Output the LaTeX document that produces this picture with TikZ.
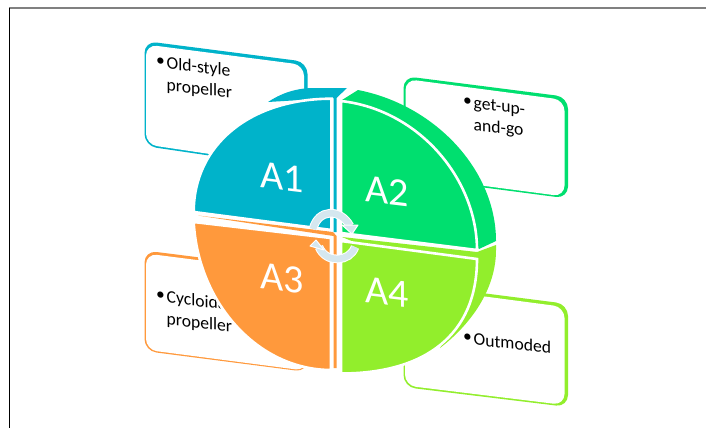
\documentclass[tikz,border=0pt]{standalone}
\usepackage{fontspec}
\setmainfont{Carlito}
\definecolor{cA}{HTML}{00B3CA}
\definecolor{cB}{HTML}{00DF6F}
\definecolor{cC}{HTML}{FF993C}
\definecolor{cD}{HTML}{92EE2C}
\definecolor{cR}{HTML}{D5E7EF}
\newcommand{\bulletline}[2]{\makebox[10.5pt][l]{\raisebox{1.5pt}{•}}#1\\\makebox[10.5pt][l]{}#2}
\tikzset{
 front/.style={draw=white,line width=2.6pt,line join=miter},
 lab/.style={text=white,font=\fontsize{40}{44}\selectfont,yslant=-0.12,inner sep=0pt},
 box/.style={font=\fontsize{17.6}{21.5}\selectfont,text=black,yslant=-0.12,anchor=north west,inner sep=0pt,align=left},
 ring/.style={draw=white,line width=8.6pt},
 ringin/.style={draw=cR,line width=6.6pt},
 rhead/.style={fill=cR,draw=white,line width=1pt,line join=round}
}
\begin{document}
\begin{tikzpicture}[x=1pt,y=-1pt]
\useasboundingbox (0,0) rectangle (706,428);
\fill[white] (0,0) rectangle (706,428);
\draw[gray,line width=1.5pt] (9,8) -- (706,8);
\draw[black,line width=1.2pt] (9.5,8) -- (9.5,428);
% text boxes
\fill[cA,rounded corners=12pt] (144.5,41) -- (307.5,62) -- (307.5,170) -- (144.5,146) -- cycle;
\fill[white,rounded corners=11pt] (146,44.5) -- (304,65) -- (304,168) -- (146,144.5) -- cycle;
\fill[cB,rounded corners=12pt] (403.5,76) -- (568,97) -- (568,198.5) -- (403.5,177) -- cycle;
\fill[white,rounded corners=11pt] (405.5,79) -- (564.5,100) -- (564.5,196.5) -- (405.5,175.5) -- cycle;
\fill[cC,rounded corners=12pt] (144.5,250.5) -- (307.5,271) -- (307.5,372) -- (144.5,351) -- cycle;
\fill[white,rounded corners=11pt] (146,253.5) -- (306.5,274) -- (306.5,370.8) -- (146,349.8) -- cycle;
\fill[cD,rounded corners=12pt] (403.5,283) -- (568,304) -- (568,407) -- (403.5,387) -- cycle;
\fill[white,rounded corners=11pt] (405,286) -- (564.5,307) -- (564.5,405) -- (405,385.5) -- cycle;
\node[box] (t1) at (156,55) {\bulletline{Old-style}{propeller}};
\node[box] (t2) at (463,96) {\bulletline{get-up-}{and-go}};
\node[box] (t3) at (156,289) {\bulletline{Cycloidal}{propeller}};
\node[box] (t4) at (463,331) {\makebox[10.5pt][l]{\raisebox{1.5pt}{•}}Outmoded};
% side faces
\fill[cA] (268,102) .. controls (280,94) and (295,88) .. (314,88) -- (347,88) -- (336.5,98) -- (336.5,232) -- (333.5,232) -- (333.5,98) -- cycle;
\fill[cB] (342,100) -- (358,90) .. controls (435,105) and (496,170) .. (496,241) -- (479,249) -- cycle;
\fill[cC] (198,215.5) -- (333,232) -- (336.5,236) -- (336.5,368) -- (333.5,368) -- (333.5,236) -- cycle;
\fill[cD] (342,237) -- (477,252) -- (496,245) -- (496,250) .. controls (496,290) and (470,325) .. (440,348) -- (470,290) -- cycle;
% front faces
\path[front,fill=cA] (193.7,212) .. controls (193.7,145) and (250,98.7) .. (331.5,98.7) -- (331.5,230) -- cycle;
\path[front,fill=cB] (341,101) .. controls (420,110) and (477,180) .. (477,250) -- (341,233) -- cycle;
\path[front,fill=cC] (193.7,222) -- (331,238) -- (331,370) .. controls (258,370) and (198,303) .. cycle;
\path[front,fill=cD] (341,241) -- (477,259) .. controls (477,335) and (425,373.5) .. (341,373.5) -- cycle;
% labels
\node[lab] (a1) at (282,177) {A1};
\node[lab] (a2) at (387,191) {A2};
\node[lab] (a3) at (282,278) {A3};
\node[lab] (a4) at (387,292) {A4};
% circular arrows
\draw[ring] (313,229) .. controls (318,209) and (340,208) .. (350,226);
\draw[ringin] (313,229) .. controls (318,209) and (340,208) .. (350,226);
\path[rhead] (342,225) -- (358,225) -- (352,234) -- cycle;
\draw[ring] (319,247) .. controls (326,264) and (350,262) .. (355,247);
\draw[ringin] (319,247) .. controls (326,264) and (350,262) .. (355,247);
\path[rhead] (310,246) -- (316,240) -- (324,250) -- cycle;
\end{tikzpicture}
\end{document}
